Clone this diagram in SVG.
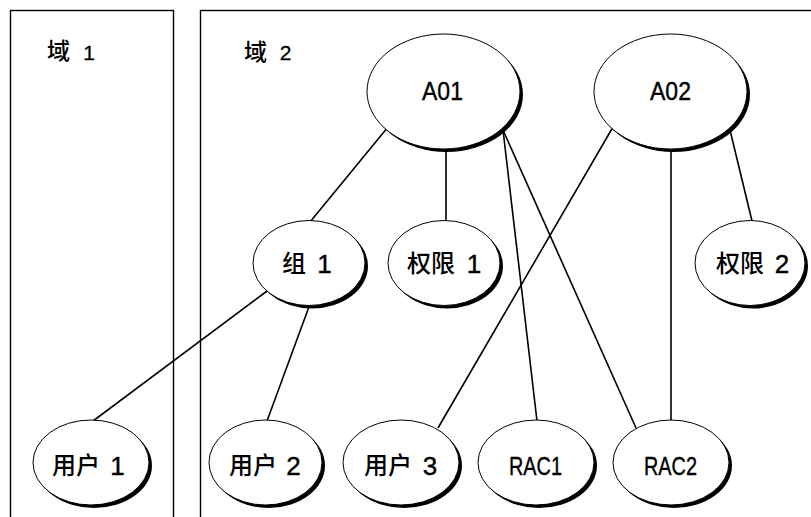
<svg xmlns="http://www.w3.org/2000/svg" width="811" height="517" viewBox="0 0 811 517">
<defs>
<style>
.box{fill:none;stroke:#000;stroke-width:1.4}
.conn line{stroke:#000;stroke-width:1.6;fill:none}
.sh{fill:#000;stroke:none}
.el{fill:#fff;stroke:#000;stroke-width:1}
.cjk{font-family:"Noto Sans CJK SC","Noto Sans",sans-serif;font-size:24px;font-weight:500;fill:#000}
.lat{font-family:"Liberation Sans",Arial,sans-serif;font-size:26px;fill:#000;stroke:#000;stroke-width:0.4}
.hcjk{font-family:"Noto Sans CJK SC","Noto Sans",sans-serif;font-size:23px;font-weight:500;fill:#000}
.hlat{font-family:"Liberation Sans",Arial,sans-serif;font-size:21px;fill:#000;stroke:#000;stroke-width:0.3}
</style>
</defs>
<rect width="811" height="517" fill="#fff"/>
<g id="domain1">
<rect class="box" x="10.5" y="10.5" width="163" height="530"/>
<text class="hcjk" x="47" y="59">域</text>
<text class="hlat" x="89" y="59.5" text-anchor="middle">1</text>
</g>
<g id="domain2">
<rect class="box" x="200.5" y="10.5" width="700" height="530"/>
<text class="hcjk" x="244" y="60">域</text>
<text class="hlat" x="285.5" y="59.5" text-anchor="middle">2</text>
</g>
<g id="connectors" class="conn">
<line x1="388" y1="127" x2="310" y2="222"/>
<line x1="446" y1="148" x2="446" y2="222"/>
<line x1="503" y1="130" x2="537" y2="421"/>
<line x1="503" y1="130" x2="636" y2="428"/>
<line x1="613" y1="127" x2="438" y2="428"/>
<line x1="671" y1="148" x2="671" y2="421"/>
<line x1="730" y1="130" x2="752" y2="221"/>
<line x1="267" y1="291" x2="93" y2="421"/>
<line x1="310" y1="304" x2="267" y2="421"/>
</g>
<g id="A01">
<ellipse class="sh" cx="446.5" cy="94.5" rx="76.5" ry="57.5"/>
<ellipse class="el" cx="443.5" cy="91.5" rx="76.5" ry="57.5"/>
<text class="lat" x="422" y="100" textLength="41" lengthAdjust="spacingAndGlyphs">A01</text>
</g>
<g id="A02">
<ellipse class="sh" cx="673.5" cy="94.5" rx="76.5" ry="57.5"/>
<ellipse class="el" cx="670.5" cy="91.5" rx="76.5" ry="57.5"/>
<text class="lat" x="650" y="100" textLength="41" lengthAdjust="spacingAndGlyphs">A02</text>
</g>
<g id="group1">
<ellipse class="sh" cx="312" cy="266" rx="56" ry="42.5"/>
<ellipse class="el" cx="309" cy="263" rx="56" ry="42.5"/>
<text class="cjk" x="282" y="272">组</text>
<text class="lat" x="324.5" y="273" text-anchor="middle">1</text>
</g>
<g id="perm1">
<ellipse class="sh" cx="447" cy="266" rx="56" ry="42.5"/>
<ellipse class="el" cx="444" cy="263" rx="56" ry="42.5"/>
<text class="cjk" x="407" y="272">权限</text>
<text class="lat" x="474" y="273" text-anchor="middle">1</text>
</g>
<g id="perm2">
<ellipse class="sh" cx="753" cy="266" rx="55" ry="42.5"/>
<ellipse class="el" cx="750" cy="263" rx="55" ry="42.5"/>
<text class="cjk" x="716" y="272">权限</text>
<text class="lat" x="782" y="273" text-anchor="middle">2</text>
</g>
<g id="user1">
<ellipse class="sh" cx="94" cy="465.5" rx="58" ry="42.5"/>
<ellipse class="el" cx="91" cy="462.5" rx="58" ry="42.5"/>
<text class="cjk" x="52" y="474">用户</text>
<text class="lat" x="117.5" y="475" text-anchor="middle">1</text>
</g>
<g id="user2">
<ellipse class="sh" cx="268.5" cy="465.5" rx="56.5" ry="42.5"/>
<ellipse class="el" cx="265.5" cy="462.5" rx="56.5" ry="42.5"/>
<text class="cjk" x="229" y="474">用户</text>
<text class="lat" x="293.5" y="475" text-anchor="middle">2</text>
</g>
<g id="user3">
<ellipse class="sh" cx="404" cy="465.5" rx="58" ry="42.5"/>
<ellipse class="el" cx="401" cy="462.5" rx="58" ry="42.5"/>
<text class="cjk" x="364" y="474">用户</text>
<text class="lat" x="430" y="475" text-anchor="middle">3</text>
</g>
<g id="RAC1">
<ellipse class="sh" cx="539" cy="465.5" rx="58" ry="42.5"/>
<ellipse class="el" cx="536" cy="462.5" rx="58" ry="42.5"/>
<text class="lat" x="509" y="475" textLength="53" lengthAdjust="spacingAndGlyphs">RAC1</text>
</g>
<g id="RAC2">
<ellipse class="sh" cx="674" cy="465.5" rx="58" ry="42.5"/>
<ellipse class="el" cx="671" cy="462.5" rx="58" ry="42.5"/>
<text class="lat" x="644" y="475" textLength="53" lengthAdjust="spacingAndGlyphs">RAC2</text>
</g>
</svg>
